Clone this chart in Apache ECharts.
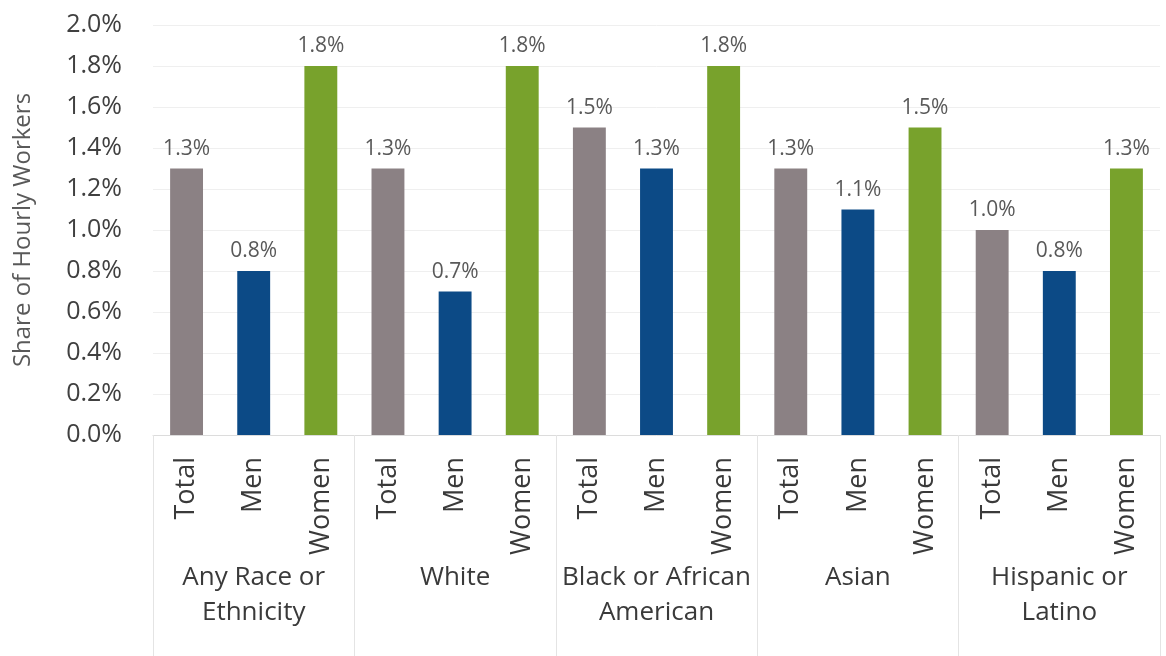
<!DOCTYPE html>
<html>
<head>
<meta charset="utf-8">
<script src="https://cdn.jsdelivr.net/npm/echarts@6/dist/echarts.min.js"></script>
<style>
  html, body { margin: 0; padding: 0; background: #ffffff; }
  #chart { width: 1166px; height: 656px; }
</style>
</head>
<body>
<div id="chart"></div>
<script>
// Race / ethnicity groups shown on the outer axis level
const groups = ['Any Race or\nEthnicity', 'White', 'Black or African\nAmerican', 'Asian', 'Hispanic or\nLatino'];
// Inner level inside every group
const subgroups = ['Total', 'Men', 'Women'];
// Share of hourly workers (%), one value per group
const totalValues = [1.3, 1.3, 1.5, 1.3, 1.0];
const menValues   = [0.8, 0.7, 1.3, 1.1, 0.8];
const womenValues = [1.8, 1.8, 1.8, 1.5, 1.3];
// Y axis ticks (%)
const yTicks = [0.0, 0.2, 0.4, 0.6, 0.8, 1.0, 1.2, 1.4, 1.6, 1.8, 2.0];

const subColors = { Total: '#8b8184', Men: '#0c4a86', Women: '#78a22c' };
const FONT = '"Open Sans", "Noto Sans", sans-serif';

// Flatten groups x subgroups into one category row
const categories = [];
const barData = [];
groups.forEach((g, i) => {
  const vals = [totalValues[i], menValues[i], womenValues[i]];
  subgroups.forEach((s, j) => {
    categories.push(s);
    barData.push({ value: vals[j], itemStyle: { color: subColors[s] } });
  });
});

const chart = echarts.init(document.getElementById('chart'), null, { renderer: 'canvas' });
chart.setOption({
  animation: false,
  backgroundColor: '#ffffff',
  grid: { left: 153, right: 6, top: 25, bottom: 221, containLabel: false },
  xAxis: [
    {
      type: 'category',
      data: categories,
      position: 'bottom',
      axisLine: { show: true, lineStyle: { color: '#dcdcdc', width: 1 } },
      axisTick: { show: false },
      axisLabel: {
        interval: 0,
        rotate: 90,
        margin: 22,
        fontFamily: FONT,
        fontSize: 27,
        color: '#3a3a3a'
      }
    },
    {
      type: 'category',
      data: groups,
      position: 'bottom',
      axisLine: { show: false },
      axisTick: { show: true, length: 225, lineStyle: { color: '#e4e4e4', width: 1 } },
      axisLabel: {
        interval: 0,
        margin: 125,
        lineHeight: 35,
        fontFamily: FONT,
        fontSize: 26,
        color: '#3a3a3a'
      }
    }
  ],
  yAxis: {
    type: 'value',
    min: yTicks[0],
    max: yTicks[yTicks.length - 1],
    interval: 0.2,
    name: 'Share of Hourly Workers',
    nameLocation: 'middle',
    nameGap: 118,
    nameTextStyle: { fontFamily: FONT, fontSize: 24, color: '#595959' },
    axisLine: { show: false },
    axisTick: { show: false },
    splitLine: { show: true, lineStyle: { color: '#efefef', width: 1 } },
    axisLabel: {
      margin: 31,
      fontFamily: FONT,
      fontSize: 25,
      color: '#404040',
      formatter: v => v.toFixed(1) + '%'
    }
  },
  series: [
    {
      type: 'bar',
      xAxisIndex: 0,
      data: barData,
      barWidth: '49%',
      label: {
        show: true,
        position: 'top',
        distance: 9,
        fontFamily: FONT,
        fontSize: 21,
        color: '#595959',
        formatter: p => p.value.toFixed(1) + '%'
      }
    }
  ]
});
</script>
</body>
</html>
